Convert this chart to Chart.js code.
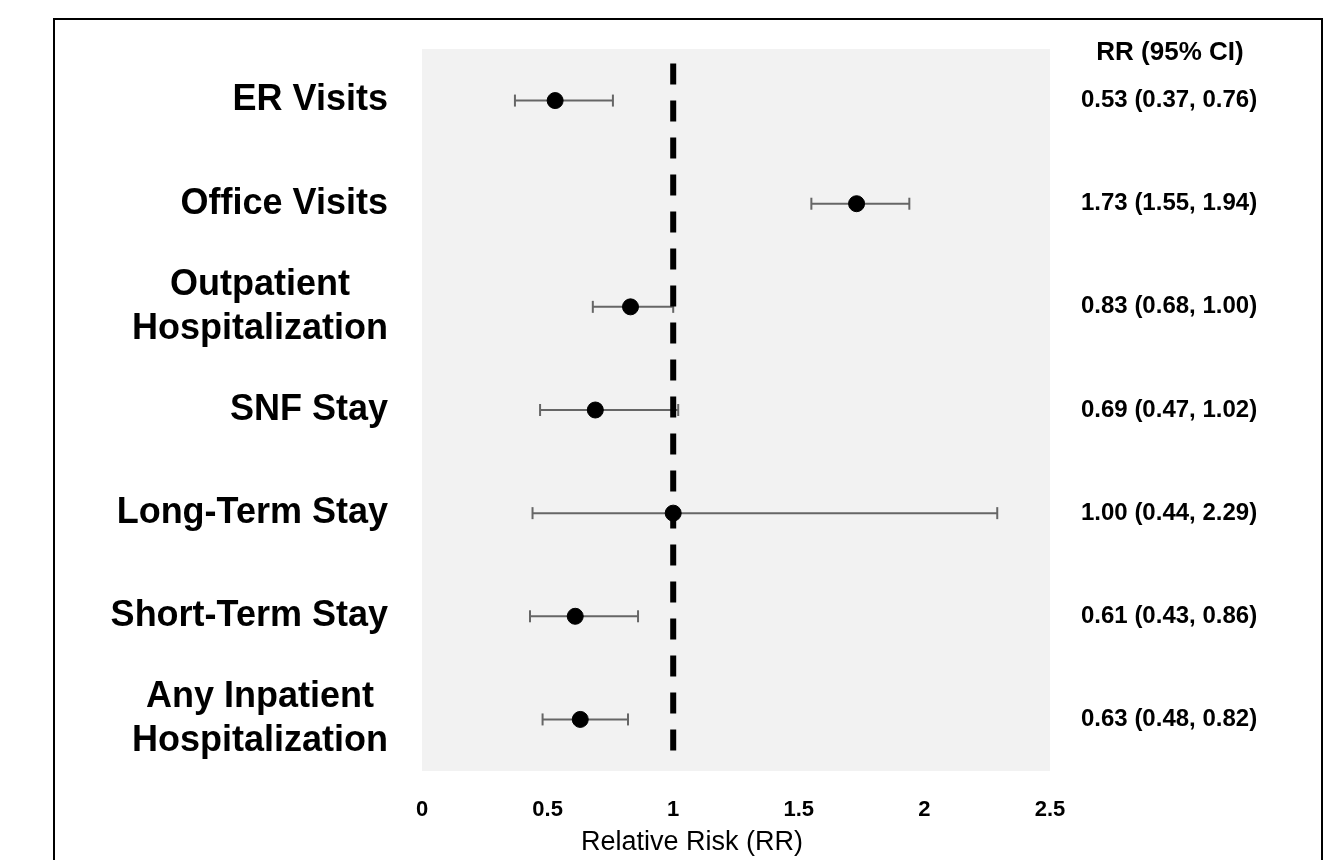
<!DOCTYPE html>
<html>
<head>
<meta charset="utf-8">
<title>Relative Risk forest plot</title>
<script src="https://cdn.jsdelivr.net/npm/chart.js@4.4.1/dist/chart.umd.min.js"></script>
<style>
  html, body { margin: 0; padding: 0; background: #fff; overflow: hidden; }
  #frame {
    position: absolute; left: 53px; top: 18px;
    width: 1270px; height: 900px;
    box-sizing: border-box; border: 2px solid #000;
  }
  #chart { position: absolute; left: 0; top: 0; }
</style>
</head>
<body>
<div id="frame"></div>
<canvas id="chart" width="1339" height="860"></canvas>
<script>
// ---------- DATA ----------
const outcomes = [
  ['ER Visits'],
  ['Office Visits'],
  ['Outpatient', 'Hospitalization'],
  ['SNF Stay'],
  ['Long-Term Stay'],
  ['Short-Term Stay'],
  ['Any Inpatient', 'Hospitalization']
];
const rr      = [0.53, 1.73, 0.83, 0.69, 1.00, 0.61, 0.63];
const ciLow   = [0.37, 1.55, 0.68, 0.47, 0.44, 0.43, 0.48];
const ciHigh  = [0.76, 1.94, 1.00, 1.02, 2.29, 0.86, 0.82];
const xTicks  = [0, 0.5, 1, 1.5, 2, 2.5];
const refLine = { x: 1, from: 0.64, to: 7.33 };   // y range in row units
const columnHeader = 'RR (95% CI)';
const axisTitle = 'Relative Risk (RR)';

const FONT = "'Liberation Sans', Arial, Helvetica, sans-serif";
Chart.defaults.font.family = FONT;
Chart.defaults.color = '#000';

// ---------- DATASETS ----------
const rowPos = rr.map((_, i) => i + 1);

const pointSet = {
  type: 'scatter',
  data: rr.map((v, i) => ({ x: v, y: rowPos[i] })),
  backgroundColor: '#000',
  borderColor: '#000',
  pointRadius: 8,
  pointHoverRadius: 8
};

const refSet = {
  type: 'line',
  data: [{ x: refLine.x, y: refLine.from }, { x: refLine.x, y: refLine.to }],
  borderColor: '#000',
  borderWidth: 6,
  borderDash: [21, 16],
  pointRadius: 0,
  fill: false
};

// one small line per row for the CI, caps drawn as rotated 'line' points
const ciSets = rr.map((_, i) => ({
  type: 'line',
  data: [{ x: ciLow[i], y: rowPos[i] }, { x: ciHigh[i], y: rowPos[i] }],
  borderColor: '#666',
  borderWidth: 2,
  pointStyle: 'line',
  rotation: 90,
  pointRadius: 6,
  pointBorderWidth: 2,
  pointBorderColor: '#666',
  fill: false
}));

// ---------- PLUGIN: background, labels, value column ----------
const forestDecor = {
  id: 'forestDecor',
  beforeDraw(chart) {
    const { ctx, chartArea: a } = chart;
    ctx.save();
    ctx.fillStyle = '#f2f2f2';
    ctx.fillRect(a.left, a.top, a.right - a.left, a.bottom - a.top);
    ctx.restore();
  },
  afterDraw(chart) {
    const { ctx } = chart;
    const y = chart.scales.y;
    ctx.save();
    ctx.fillStyle = '#000';
    ctx.textBaseline = 'middle';

    // row labels: block right aligned, lines centred inside the block
    ctx.font = 'bold 36px ' + FONT;
    ctx.textAlign = 'center';
    const labelRight = 388, lineH = 44;
    outcomes.forEach((lines, i) => {
      const w = Math.max(...lines.map(l => ctx.measureText(l).width));
      const cx = labelRight - w / 2;
      const cy = y.getPixelForValue(rowPos[i]);
      lines.forEach((l, k) => {
        ctx.fillText(l, cx, cy + (k - (lines.length - 1) / 2) * lineH);
      });
    });

    // value column
    ctx.font = 'bold 26px ' + FONT;
    ctx.fillText(columnHeader, 1170, 53);
    ctx.font = 'bold 24px ' + FONT;
    ctx.textAlign = 'left';
    rr.forEach((v, i) => {
      const txt = `${v.toFixed(2)} (${ciLow[i].toFixed(2)}, ${ciHigh[i].toFixed(2)})`;
      ctx.fillText(txt, 1081, y.getPixelForValue(rowPos[i]));
    });

    // axis title
    ctx.font = '27px ' + FONT;
    ctx.textAlign = 'center';
    ctx.fillText(axisTitle, 692, 843);
    ctx.restore();
  }
};

// ---------- CHART ----------
new Chart(document.getElementById('chart'), {
  data: { datasets: [pointSet, refSet, ...ciSets] },
  options: {
    responsive: false,
    animation: false,
    layout: { padding: { left: 422, right: 289, top: 49, bottom: 0 } },
    plugins: { legend: { display: false }, tooltip: { enabled: false } },
    scales: {
      x: {
        type: 'linear',
        min: xTicks[0],
        max: xTicks[xTicks.length - 1],
        afterBuildTicks: s => { s.ticks = xTicks.map(v => ({ value: v })); },
        afterFit: s => { s.height = 89; },
        grid: { display: false },
        border: { display: false },
        ticks: {
          padding: 18,
          font: { size: 22, weight: 'bold' },
          color: '#000',
          callback: v => String(v)
        }
      },
      y: {
        type: 'linear',
        min: 0.5,
        max: 7.5,
        reverse: true,
        display: false
      }
    }
  },
  plugins: [forestDecor]
});
</script>
</body>
</html>
